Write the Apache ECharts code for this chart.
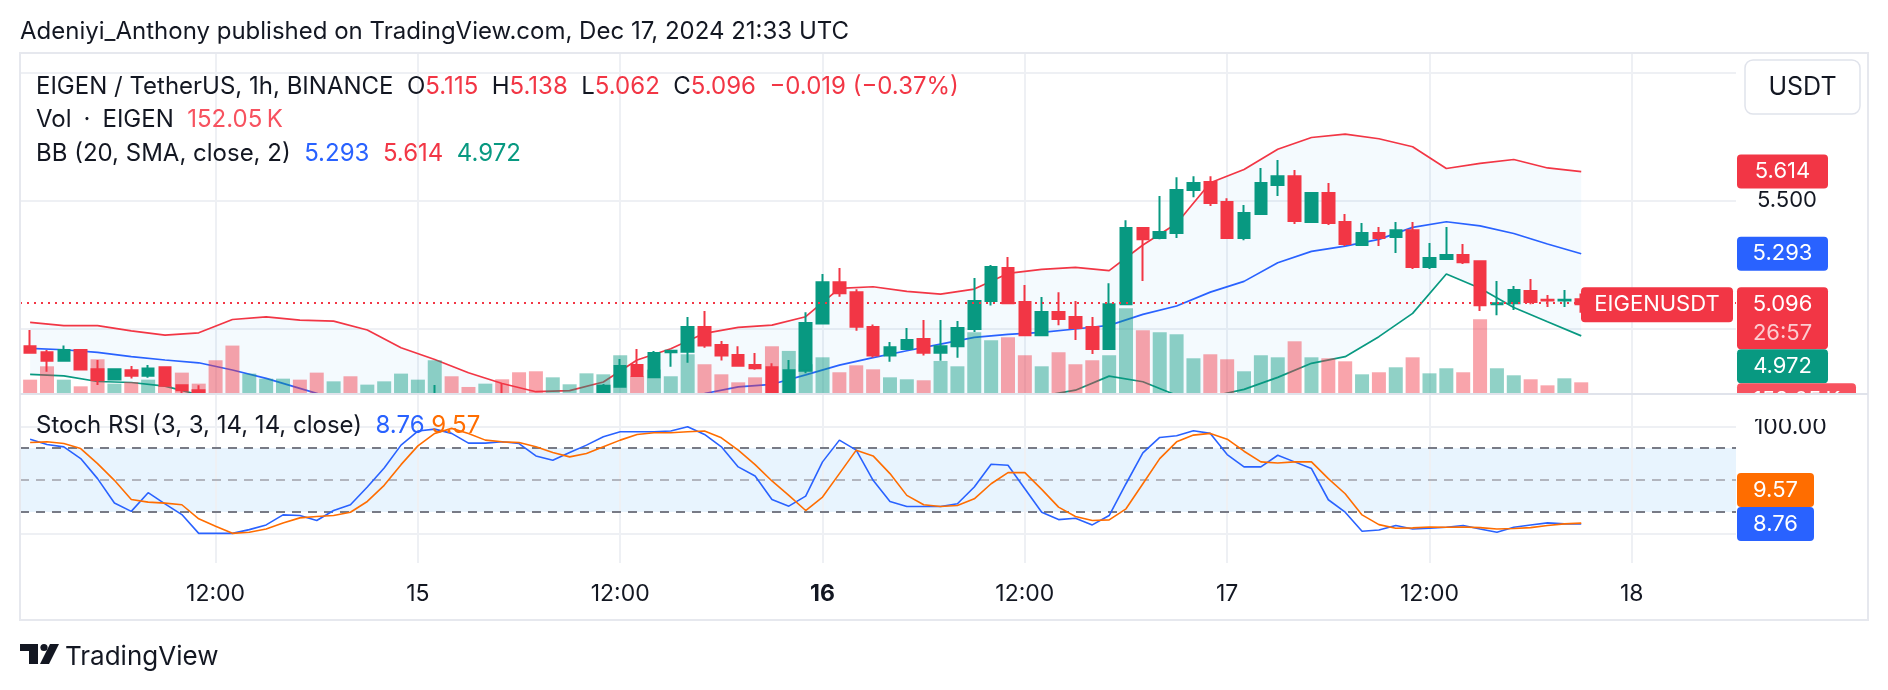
<!DOCTYPE html>
<html>
<head>
<meta charset="utf-8">
<script src="https://cdn.jsdelivr.net/npm/echarts@6/dist/echarts.min.js"></script>
<style>
  html, body { margin: 0; padding: 0; background: #fff; }
  #chart { width: 1888px; height: 690px; }
</style>
</head>
<body>
<div id="chart"></div>
<script>
// EIGEN/USDT 1h, Dec 14 01:00 -> Dec 17 21:00 (one entry per hour, index = bar)
const opens = [4.932, 4.908, 4.875, 4.917, 4.842, 4.802, 4.838, 4.816, 4.850, 4.779,
  4.760, 4.740, 4.722, 4.695, 4.705, 4.712, 4.720, 4.708, 4.690, 4.700,
  4.690, 4.698, 4.708, 4.722, 4.730, 4.742, 4.725, 4.715, 4.728, 4.712,
  4.700, 4.690, 4.705, 4.718, 4.735, 4.773, 4.858, 4.811, 4.908, 4.910,
  5.007, 4.936, 4.897, 4.858, 4.850, 4.735, 4.836, 5.020, 5.182, 5.143,
  5.007, 4.895, 4.921, 4.960, 4.906, 4.932, 4.999, 5.108, 5.237, 5.104,
  4.975, 5.065, 5.046, 5.007, 4.921, 5.096, 5.393, 5.354, 5.374, 5.542,
  5.573, 5.495, 5.354, 5.448, 5.561, 5.596, 5.417, 5.530, 5.417, 5.327,
  5.374, 5.358, 5.385, 5.241, 5.272, 5.288, 5.264, 5.096, 5.100, 5.147,
  5.113, 5.110, 5.115]
const closes = [4.906, 4.875, 4.917, 4.841, 4.800, 4.842, 4.816, 4.845, 4.777, 4.760,
  4.740, 4.722, 4.695, 4.705, 4.712, 4.720, 4.708, 4.690, 4.700, 4.690,
  4.698, 4.708, 4.722, 4.730, 4.742, 4.725, 4.715, 4.728, 4.712, 4.700,
  4.690, 4.705, 4.718, 4.735, 4.777, 4.854, 4.815, 4.905, 4.914, 5.007,
  4.935, 4.895, 4.855, 4.846, 4.740, 4.838, 5.022, 5.182, 5.139, 5.008,
  4.895, 4.928, 4.956, 4.906, 4.932, 5.003, 5.108, 5.241, 5.100, 4.975,
  5.065, 5.038, 5.003, 4.921, 5.096, 5.393, 5.350, 5.378, 5.542, 5.569,
  5.491, 5.354, 5.452, 5.569, 5.596, 5.421, 5.530, 5.413, 5.331, 5.374,
  5.354, 5.385, 5.241, 5.276, 5.288, 5.260, 5.092, 5.100, 5.151, 5.104,
  5.110, 5.113, 5.096]
const lows = [4.906, 4.832, 4.875, 4.841, 4.780, 4.802, 4.806, 4.809, 4.777, 4.745,
  4.725, 4.705, 4.685, 4.688, 4.698, 4.705, 4.700, 4.680, 4.685, 4.680,
  4.685, 4.692, 4.700, 4.715, 4.722, 4.712, 4.700, 4.708, 4.700, 4.690,
  4.675, 4.685, 4.698, 4.710, 4.725, 4.770, 4.815, 4.809, 4.852, 4.867,
  4.926, 4.876, 4.855, 4.840, 4.730, 4.725, 4.826, 5.020, 5.125, 4.992,
  4.888, 4.871, 4.921, 4.895, 4.875, 4.887, 4.987, 5.091, 5.100, 4.975,
  4.975, 5.014, 4.956, 4.901, 4.921, 5.096, 5.186, 5.350, 5.354, 5.514,
  5.479, 5.354, 5.346, 5.448, 5.518, 5.409, 5.417, 5.405, 5.323, 5.323,
  5.323, 5.296, 5.233, 5.233, 5.272, 5.253, 5.069, 5.053, 5.073, 5.096,
  5.085, 5.085, 5.062]
const highs = [4.995, 4.917, 4.935, 4.917, 4.878, 4.846, 4.854, 4.858, 4.850, 4.779,
  4.779, 4.745, 4.735, 4.715, 4.722, 4.730, 4.728, 4.715, 4.710, 4.708,
  4.705, 4.715, 4.730, 4.740, 4.780, 4.748, 4.735, 4.740, 4.786, 4.725,
  4.715, 4.715, 4.725, 4.745, 4.784, 4.882, 4.921, 4.913, 4.914, 5.046,
  5.069, 4.952, 4.932, 4.905, 4.865, 4.878, 5.064, 5.214, 5.237, 5.154,
  5.017, 4.948, 5.003, 5.034, 5.034, 5.030, 5.198, 5.249, 5.280, 5.171,
  5.124, 5.143, 5.108, 5.046, 5.178, 5.424, 5.397, 5.518, 5.592, 5.596,
  5.596, 5.510, 5.483, 5.628, 5.659, 5.620, 5.534, 5.569, 5.448, 5.413,
  5.397, 5.417, 5.417, 5.335, 5.397, 5.331, 5.264, 5.186, 5.167, 5.194,
  5.132, 5.151, 5.138]
// volume in thousands of EIGEN
const volumes = [190, 380, 190, 95, 480, 133, 157, 190, 100, 290,
  133, 466, 675, 276, 204, 204, 190, 290, 166, 238,
  119, 166, 276, 190, 466, 238, 86, 133, 195, 295,
  309, 223, 124, 280, 266, 537, 238, 333, 238, 551,
  409, 266, 152, 223, 665, 599, 409, 508, 295, 394,
  337, 223, 195, 181, 456, 380, 865, 751, 793, 537,
  380, 580, 409, 466, 537, 1207, 893, 865, 836, 494,
  551, 480, 309, 537, 508, 736, 508, 494, 451, 266,
  295, 366, 508, 280, 352, 295, 1050, 352, 252, 195,
  109, 209, 152.05]

// Bollinger bands, read every second bar (bars 0, 2, 4 ... 92)
const bbUpper = [5.025, 5.012, 5.012, 4.992, 4.975, 4.984, 5.036, 5.046, 5.034, 5.030,
  4.995, 4.926, 4.880, 4.828, 4.786, 4.754, 4.758, 4.792, 4.878, 4.922,
  4.982, 5.005, 5.014, 5.047, 5.158, 5.164, 5.146, 5.135, 5.155, 5.216,
  5.232, 5.240, 5.227, 5.327, 5.411, 5.570, 5.622, 5.701, 5.747, 5.760,
  5.742, 5.711, 5.626, 5.646, 5.661, 5.628, 5.614]
const bbBasis = [4.923, 4.918, 4.908, 4.891, 4.878, 4.867, 4.839, 4.806, 4.767, 4.728,
  4.702, 4.682, 4.669, 4.663, 4.659, 4.663, 4.676, 4.693, 4.708, 4.732,
  4.747, 4.773, 4.783, 4.820, 4.858, 4.887, 4.914, 4.940, 4.966, 4.978,
  4.986, 4.999, 5.013, 5.056, 5.089, 5.143, 5.185, 5.258, 5.302, 5.323,
  5.349, 5.396, 5.418, 5.402, 5.372, 5.331, 5.293]
const bbLower = [4.822, 4.816, 4.794, 4.790, 4.776, 4.742, 4.695, 4.643, 4.604, 4.578,
  4.565, 4.539, 4.526, 4.513, 4.507, 4.513, 4.526, 4.539, 4.546, 4.552,
  4.565, 4.578, 4.578, 4.591, 4.617, 4.643, 4.669, 4.689, 4.708, 4.721,
  4.737, 4.760, 4.815, 4.793, 4.740, 4.734, 4.763, 4.810, 4.865, 4.891,
  4.969, 5.060, 5.214, 5.158, 5.083, 5.027, 4.972]

// Stoch RSI (3, 3, 14, 14), one value per bar
const stochK = [88.3, 83.3, 81.1, 70.1, 51.3, 28.4, 20.6, 38.1, 27.7, 17.6,
  0, 0, 0, 3.5, 7.9, 17.3, 16.7, 12.0, 21.4, 26.8,
  43.4, 61.3, 82.7, 95.9, 97.7, 93.7, 84.6, 84.6, 85.8, 84.2,
  72.6, 68.5, 75.8, 82.7, 90.5, 95.2, 95.2, 95.2, 95.9, 100,
  92.7, 81.1, 62.3, 53.8, 31.8, 25.5, 34.9, 67.0, 87.4, 78.0,
  49.7, 29.9, 25.2, 25.2, 25.2, 27.7, 43.4, 64.8, 63.8, 41.8,
  19.8, 12.9, 14.2, 7.9, 16.7, 46.5, 75.4, 89.9, 91.5, 96.2,
  93.7, 73.9, 62.3, 62.3, 73.2, 67.0, 60.7, 31.5, 19.8, 1.9,
  3.2, 7.3, 4.1, 4.8, 5.7, 7.3, 4.1, 1.0, 5.7, 7.9,
  9.8, 8.9, 8.76]
const stochD = [85.2, 85.8, 84.2, 79.5, 65.4, 49.7, 31.8, 29.3, 28.3, 26.8,
  13.6, 6.7, 0, 1.0, 4.1, 9.8, 14.5, 15.8, 16.7, 19.8,
  29.9, 45.0, 64.4, 82.0, 93.7, 98.4, 93.7, 87.4, 85.8, 85.2,
  81.1, 75.8, 71.7, 74.8, 81.1, 87.4, 92.7, 94.3, 94.3, 95.2,
  95.9, 89.6, 78.0, 64.4, 49.1, 35.6, 21.4, 34.0, 56.0, 78.0,
  72.6, 56.0, 35.6, 26.8, 25.2, 26.1, 32.4, 46.5, 56.9, 56.9,
  41.2, 24.6, 15.8, 12.0, 12.6, 23.0, 46.5, 70.1, 85.8, 92.1,
  93.7, 88.3, 77.0, 67.0, 66.0, 67.0, 67.0, 51.3, 37.1, 17.3,
  8.2, 4.8, 5.1, 6.0, 5.7, 6.0, 5.4, 4.1, 4.5, 5.4,
  7.3, 8.9, 9.57]

// time axis: bar index of each labelled hour
const tickIdx = [11, 23, 35, 47, 59, 71, 83, 95]
const tickLabels = ['12:00', '15', '12:00', '16', '12:00', '17', '12:00', '18']
const priceGrid = [5.0, 5.5, 6.0]

const FONT = 'Inter, "Noto Sans", sans-serif'
const INK = '#131722'
const UP = '#089981', DOWN = '#F23645', BLUE = '#2962FF', ORANGE = '#FF6D00'
const GRIDC = '#eef0f4'

const chart = echarts.init(document.getElementById('chart'), null, { renderer: 'canvas' })

const xBase = { type: 'value', min: -0.6, max: 101.18 }
const vLines = tickIdx.map((x) => ({ xAxis: x }))
const everyOther = (arr) => arr.map((v, k) => [2 * k, v])

chart.setOption({
  animation: false,
  backgroundColor: '#fff',
  grid: [
    { left: 20, top: 53, width: 1716, height: 340, outerBoundsMode: 'none' },
    { left: 20, top: 395, width: 1716, height: 168, outerBoundsMode: 'none' },
  ],
  xAxis: [
    { ...xBase, gridIndex: 0, show: false },
    {
      ...xBase, gridIndex: 1,
      axisLine: { show: false }, axisTick: { show: false }, splitLine: { show: false },
      axisLabel: {
        customValues: tickIdx,
        margin: 20,
        color: INK, fontSize: 23, fontFamily: FONT,
        formatter: (v) => {
          const s = tickLabels[tickIdx.indexOf(Math.round(v))] ?? ''
          return s === '16' ? '{b|16}' : s
        },
        rich: { b: { fontWeight: 'bold', fontSize: 23, color: INK, fontFamily: FONT } },
      },
    },
  ],
  yAxis: [
    {
      type: 'value', gridIndex: 0, min: 4.749, max: 6.077, position: 'right',
      axisLine: { show: false }, axisTick: { show: false }, splitLine: { show: false },
      axisLabel: {
        customValues: [5.5], margin: 21, color: INK, fontSize: 22, fontFamily: FONT,
        formatter: (v) => v.toFixed(3),
      },
    },
    { type: 'value', gridIndex: 0, min: 0, max: 4840, show: false },
    {
      type: 'value', gridIndex: 1, min: -27.8, max: 129.7, position: 'right',
      axisLine: { show: false }, axisTick: { show: false }, splitLine: { show: false },
      axisLabel: {
        customValues: [0, 100], margin: 18, color: INK, fontSize: 23, fontFamily: FONT,
        formatter: (v) => v.toFixed(2),
      },
    },
  ],
  series: [
    {
      // main pane grid lines
      type: 'line', xAxisIndex: 0, yAxisIndex: 0, data: [], z: 0,
      markLine: {
        z: 1, silent: true, symbol: ['none', 'none'], label: { show: false },
        lineStyle: { color: GRIDC, width: 2, type: 'solid' },
        data: [...priceGrid.map((v) => ({ yAxis: v })), ...vLines],
      },
    },
    {
      type: 'custom', xAxisIndex: 0, yAxisIndex: 0, z: 2, silent: true, clip: true,
      data: [[0, 5]],
      renderItem: (params, api) => {
        const cs = params.coordSys
        const clampY = (p) => [p[0], Math.max(cs.y, Math.min(cs.y + cs.height, p[1]))]
        const pts = []
        bbUpper.forEach((v, k) => pts.push(clampY(api.coord([2 * k, v]))))
        for (let k = bbLower.length - 1; k >= 0; k--) pts.push(clampY(api.coord([2 * k, bbLower[k]])))
        return { type: 'polygon', shape: { points: pts }, style: { fill: 'rgba(33,150,243,0.05)' } }
      },
    },
    { type: 'line', xAxisIndex: 0, yAxisIndex: 0, z: 3, data: everyOther(bbUpper), symbol: 'none', lineStyle: { color: '#F23645', width: 1.7 } },
    { type: 'line', xAxisIndex: 0, yAxisIndex: 0, z: 3, data: everyOther(bbBasis), symbol: 'none', lineStyle: { color: BLUE, width: 1.7 } },
    { type: 'line', xAxisIndex: 0, yAxisIndex: 0, z: 3, data: everyOther(bbLower), symbol: 'none', lineStyle: { color: UP, width: 1.7 } },
    {
      type: 'bar', xAxisIndex: 0, yAxisIndex: 1, z: 4, barWidth: 14,
      data: volumes.map((v, i) => ({
        value: [i, v],
        itemStyle: { color: closes[i] >= opens[i] ? 'rgba(8,153,129,0.45)' : 'rgba(242,54,69,0.45)' },
      })),
    },
    {
      type: 'candlestick', xAxisIndex: 0, yAxisIndex: 0, z: 6, barWidth: 12, clip: true,
      encode: { x: 0, y: [1, 2, 3, 4] },
      data: opens.map((o, i) => [i, o, closes[i], lows[i], highs[i]]),
      itemStyle: { color: UP, color0: DOWN, borderColor: UP, borderColor0: DOWN, borderWidth: 2 },
      markLine: {
        z: 7, silent: true, symbol: ['none', 'none'], label: { show: false },
        lineStyle: { color: DOWN, width: 2, type: [2, 5] },
        data: [{ yAxis: closes[closes.length - 1] }],
      },
    },
    {
      // stoch pane band and guide lines
      type: 'line', xAxisIndex: 1, yAxisIndex: 2, data: [], z: 9,
      markArea: {
        z: 9, silent: true, itemStyle: { color: 'rgba(33,150,243,0.1)' },
        data: [[{ yAxis: 20 }, { yAxis: 80 }]],
      },
      markLine: {
        z: 10, silent: true, symbol: ['none', 'none'], label: { show: false },
        lineStyle: { color: GRIDC, width: 2, type: 'solid' },
        data: [
          ...vLines, { yAxis: 100 }, { yAxis: 0 },
          { yAxis: 80, lineStyle: { color: '#787b86', width: 2, type: [9, 7] } },
          { yAxis: 50, lineStyle: { color: '#b2b5be', width: 2, type: [9, 7] } },
          { yAxis: 20, lineStyle: { color: '#787b86', width: 2, type: [9, 7] } },
        ],
      },
    },
    { type: 'line', xAxisIndex: 1, yAxisIndex: 2, z: 12, data: stochK.map((v, i) => [i, v]), symbol: 'none', lineStyle: { color: BLUE, width: 1.6 } },
    { type: 'line', xAxisIndex: 1, yAxisIndex: 2, z: 12, data: stochD.map((v, i) => [i, v]), symbol: 'none', lineStyle: { color: ORANGE, width: 1.6 } },
  ],
})

// labels, price tags and frame
const yPx = (v) => chart.convertToPixel({ yAxisIndex: 0 }, v)
const sPx = (v) => chart.convertToPixel({ yAxisIndex: 2 }, v)

function tag(x, y, w, h, fill, lines) {
  const els = [{ type: 'rect', z: 100, shape: { x, y, width: w, height: h, r: 4 }, style: { fill } }]
  lines.forEach((ln) => {
    els.push({
      type: 'text', z: 101,
      style: { text: ln.text, x: x + w / 2, y: ln.y, fill: ln.color || '#fff', fontSize: 22, fontFamily: FONT, align: 'center', verticalAlign: 'middle' },
    })
  })
  return els
}

function text(x, y, str, opts = {}, z = 101) {
  return {
    type: 'text', z,
    style: { text: str, x, y, fill: INK, fontSize: 24, fontFamily: FONT, verticalAlign: 'middle', ...opts },
  }
}

const rich24 = (fill) => ({ fill, fontSize: 24, fontFamily: FONT })
const last = closes[closes.length - 1]
const yLast = yPx(last)
const lastTop = yLast - 17
const yK = sPx(stochK[stochK.length - 1])

const g = []
// candles running past the bottom of the price pane are cut off there
g.push({ type: 'rect', z: 8, shape: { x: 21, y: 395, width: 1715, height: 30 }, style: { fill: '#fff' } })

g.push(text(20, 32, 'Adeniyi_Anthony published on TradingView.com, Dec 17, 2024 21:33 UTC'))
g.push(text(36, 87, '{k|EIGEN / TetherUS, 1h, BINANCE}  {k|O}{r|5.115}  {k|H}{r|5.138}  {k|L}{r|5.062}  {k|C}{r|5.096}  {r|\u22120.019 (\u22120.37%)}', {
  rich: { k: rich24(INK), r: rich24(DOWN) },
}))
g.push(text(36, 120, '{k|Vol\u2002\u00b7\u2002EIGEN}  {r|152.05\u2009K}', {
  rich: { k: rich24(INK), r: rich24('#F7525F') },
}))
g.push(text(36, 154, '{k|BB (20, SMA, close, 2)}  {b|5.293}  {r|5.614}  {gr|4.972}', {
  rich: { k: rich24(INK), b: rich24(BLUE), r: rich24(DOWN), gr: rich24(UP) },
}))
g.push(text(36, 426, '{k|Stoch RSI (3, 3, 14, 14, close)}  {b|8.76} {o|9.57}', {
  rich: { k: rich24(INK), b: rich24(BLUE), o: rich24(ORANGE) },
}))

// price scale tags
g.push(...tag(1737, yPx(5.614) - 17, 91, 34, DOWN, [{ text: '5.614', y: yPx(5.614) }]))
g.push(...tag(1737, yPx(5.293) - 17, 91, 34, BLUE, [{ text: '5.293', y: yPx(5.293) }]))
g.push(...tag(1581, lastTop, 152, 35, DOWN, [{ text: 'EIGENUSDT', y: yLast }]))
g.push(...tag(1737, lastTop, 91, 62, DOWN, [{ text: '5.096', y: yLast }, { text: '26:57', y: yLast + 29, color: 'rgba(255,255,255,0.75)' }]))
g.push(...tag(1737, lastTop + 62, 91, 34, UP, [{ text: '4.972', y: lastTop + 79 }]))
g.push(...tag(1737, lastTop + 96, 119, 34, '#F7525F', [{ text: '152.05\u2009K', y: lastTop + 113 }]))
g.push({ type: 'rect', z: 102, shape: { x: 1736, y: 395, width: 131, height: 24 }, style: { fill: '#fff' } })

// stoch scale tags
g.push(...tag(1737, yK - 17, 77, 34, BLUE, [{ text: '8.76', y: yK }]))
g.push(...tag(1737, yK - 51, 77, 34, ORANGE, [{ text: '9.57', y: yK - 34 }]))

// frame, pane separator, currency button
g.push({ type: 'rect', z: 103, shape: { x: 20, y: 53, width: 1848, height: 567 }, style: { fill: 'none', stroke: '#e6e8ee', lineWidth: 2 } })
g.push({ type: 'line', z: 103, shape: { x1: 20, y1: 394, x2: 1868, y2: 394 }, style: { stroke: '#e0e3eb', lineWidth: 2 } })
g.push({ type: 'rect', z: 104, shape: { x: 1745, y: 60, width: 115, height: 54, r: 8 }, style: { fill: '#fff', stroke: '#e0e3eb', lineWidth: 1.5 } })
g.push(text(1802.5, 87, 'USDT', { fontSize: 25, align: 'center' }, 105))

// TradingView mark
g.push({ type: 'polygon', z: 101, shape: { points: [[20, 644], [38, 644], [38, 664], [29, 664], [29, 651], [20, 651]] }, style: { fill: INK } })
g.push({ type: 'circle', z: 101, shape: { cx: 44, cy: 647.5, r: 3.6 }, style: { fill: INK } })
g.push({ type: 'polygon', z: 101, shape: { points: [[50, 644], [59, 644], [49, 664], [40, 664]] }, style: { fill: INK } })
g.push(text(65, 657, 'TradingView', { fontSize: 26 }))

chart.setOption({ graphic: g })
</script>
</body>
</html>
